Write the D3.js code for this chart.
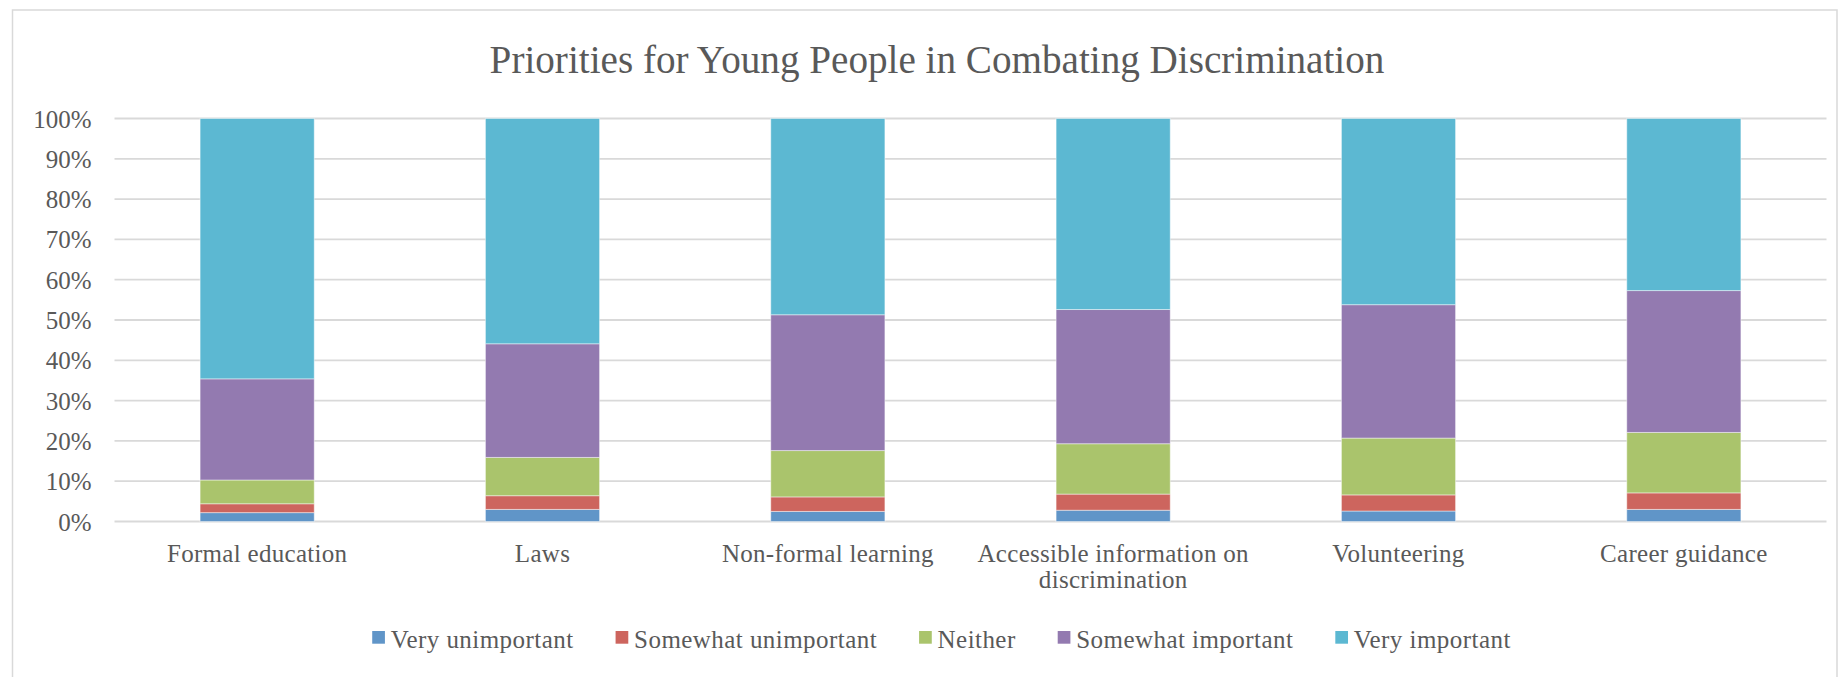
<!DOCTYPE html>
<html>
<head>
<meta charset="utf-8">
<script src="https://cdn.jsdelivr.net/npm/d3@7/dist/d3.min.js"></script>
<style>
  html, body { margin: 0; padding: 0; background: #fff; }
  svg { display: block; }
  text { font-family: "Liberation Serif", "DejaVu Serif", serif; fill: #595959; }
</style>
</head>
<body>
<svg id="chart" width="1843" height="677"></svg>
<script>
const title = "Priorities for Young People in Combating Discrimination";
const categories = ["Formal education", "Laws", "Non-formal learning",
  "Accessible information on discrimination", "Volunteering", "Career guidance"];
const seriesNames = ["Very unimportant", "Somewhat unimportant", "Neither", "Somewhat important", "Very important"];
const veryUnimportant     = [2.2, 3.0, 2.5, 2.8, 2.6, 3.0];
const somewhatUnimportant = [2.2, 3.4, 3.6, 4.0, 4.0, 4.1];
const neither             = [5.9, 9.5, 11.5, 12.5, 14.1, 15.0];
const somewhatImportant   = [25.1, 28.2, 33.7, 33.3, 33.1, 35.2];
const veryImportant       = [64.6, 55.9, 48.7, 47.4, 46.2, 42.7];
const yTicks = [0, 10, 20, 30, 40, 50, 60, 70, 80, 90, 100];
const colors = ["#6095c8", "#cd655e", "#aac46c", "#937ab0", "#5cb8d2"];

const seriesValues = [veryUnimportant, somewhatUnimportant, neither, somewhatImportant, veryImportant];
const rows = categories.map((c, i) => {
  const r = { category: c };
  seriesNames.forEach((s, j) => r[s] = seriesValues[j][i]);
  return r;
});
const stacked = d3.stack().keys(seriesNames).offset(d3.stackOffsetExpand)(rows);

const svg = d3.select("#chart");
const plot = { left: 114.5, right: 1826.5, top: 118.5, bottom: 521.5 };

// chart border
svg.append("rect").attr("x", 12.5).attr("y", 10).attr("width", 1824.5).attr("height", 700)
  .attr("fill", "none").attr("stroke", "#d9d9d9").attr("stroke-width", 1.5);

const x = d3.scaleBand().domain(categories).range([plot.left, plot.right])
  .paddingInner(0.6).paddingOuter(0.3);
const y = d3.scaleLinear().domain([0, 1]).range([plot.bottom, plot.top]);

// gridlines
svg.append("g").selectAll("line").data(yTicks).join("line")
  .attr("x1", plot.left).attr("x2", plot.right)
  .attr("y1", d => y(d / 100)).attr("y2", d => y(d / 100))
  .attr("stroke", "#d9d9d9").attr("stroke-width", 1.8);

// y axis labels
const yAxis = d3.axisLeft(y).tickValues(yTicks.map(d => d / 100))
  .tickFormat(d3.format(".0%")).tickSize(0).tickPadding(0);
const gy = svg.append("g").attr("transform", `translate(91.5,0)`).call(yAxis);
gy.select(".domain").remove();
gy.selectAll("text").attr("font-family", null).attr("font-size", 25).attr("dy", "0.34em");

// bars
svg.append("g").selectAll("g").data(stacked).join("g")
  .attr("fill", (d, i) => colors[i])
  .selectAll("rect").data(d => d).join("rect")
  .attr("x", d => x(d.data.category))
  .attr("width", x.bandwidth())
  .attr("y", d => y(d[1]))
  .attr("height", d => y(d[0]) - y(d[1]))
  .attr("stroke", "#ffffff").attr("stroke-opacity", 0.45).attr("stroke-width", 1);

// x axis labels with wrapping
const xAxis = d3.axisBottom(x).tickSize(0).tickPadding(0);
const gx = svg.append("g").attr("transform", `translate(0,0)`).call(xAxis);
gx.select(".domain").remove();
gx.selectAll("text").attr("font-family", null).attr("font-size", 25)
  .attr("letter-spacing", 0.3)
  .attr("y", 561.5).attr("dy", 0)
  .each(function(d) {
    const t = d3.select(this);
    if (d.length > 30) {
      t.text(null);
      t.append("tspan").attr("x", 0).attr("y", 561.5).text("Accessible information on");
      t.append("tspan").attr("x", 0).attr("y", 587.5).text("discrimination");
    }
  });

// title
const tt = svg.append("text").attr("x", 937).attr("y", 72.5).attr("text-anchor", "middle")
  .attr("font-size", 38).text(title);
const tw = tt.node().getComputedTextLength();
tt.attr("font-size", 38 * 895 / tw);

// legend
const lg = svg.append("g");
let cx = 0;
seriesNames.forEach((s, i) => {
  const g = lg.append("g").attr("transform", `translate(${cx},0)`);
  g.append("rect").attr("x", 0).attr("y", 631).attr("width", 12.7).attr("height", 12.7).attr("fill", colors[i]);
  const t = g.append("text").attr("x", 18.5).attr("y", 648.3).attr("font-size", 25)
    .attr("letter-spacing", 0.45).text(s);
  cx += 18.5 + t.node().getComputedTextLength() + 42;
});
const legendW = cx - 42;
lg.attr("transform", `translate(${941.5 - legendW / 2},0)`);
</script>
</body>
</html>
